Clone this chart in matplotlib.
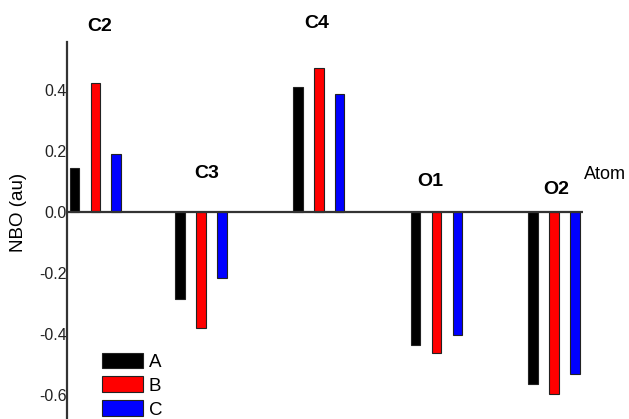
import numpy as np
import matplotlib.pyplot as plt
from matplotlib.patches import Patch

plt.rcParams['font.family'] = ['Liberation Sans', 'DejaVu Sans']

# Données NBO (au)
atoms = ['C2', 'C3', 'C4', 'O1', 'O2']
series = ['A', 'B', 'C']
nbo_a = [0.145, -0.285, 0.41, -0.438, -0.564]
nbo_b = [0.424, -0.38, 0.473, -0.463, -0.598]
nbo_c = [0.19, -0.216, 0.387, -0.403, -0.532]
yticks = [-0.6, -0.4, -0.2, 0.0, 0.2, 0.4]

group_x = np.array([1.1, 2.0, 3.0, 4.0, 5.0])
label_x = [1.14, 2.046, 2.981, 3.946, 5.017]
label_y = [0.607, 0.125, 0.616, 0.098, 0.072]
colors = ['#000000', '#ff0000', '#0000ff']
offset = 0.178
width = 0.08

fig = plt.figure(figsize=(6.29, 4.19), dpi=100)
ax = fig.add_axes([0.1065, 0.0, 0.8205, 0.8998])

for i, vals in enumerate([nbo_a, nbo_b, nbo_c]):
    ax.bar(group_x + (i - 1) * offset, vals, width=width, color=colors[i],
           edgecolor='#222222', linewidth=0.8, zorder=2)

ax.set_xlim(0.86, 5.246)
ax.set_ylim(-0.679, 0.557)
ax.axhline(0, color='#333333', linewidth=1.6, zorder=3)

for spine in ['top', 'right', 'bottom']:
    ax.spines[spine].set_visible(False)
ax.spines['left'].set_color('#333333')
ax.spines['left'].set_linewidth(1.6)

ax.set_xticks([])
ax.set_yticks(yticks)
ax.set_yticklabels([f'{t:.1f}' for t in yticks])
ax.tick_params(axis='y', length=0, pad=0, labelsize=11.5, labelcolor='#222222')

# noms des atomes
for x, y, name in zip(label_x, label_y, atoms):
    ax.text(x, y, name, ha='center', va='center', fontsize=14,
            fontweight='bold', clip_on=False)

ax.text(5.254, 0.121, 'Atom', ha='left', va='center', fontsize=13,
        clip_on=False)

fig.text(0.029, 0.494, 'NBO (au)', rotation=90, ha='center', va='center',
         fontsize=13.5)

handles = [Patch(facecolor=c, edgecolor='#222222', linewidth=0.8) for c in colors]
ax.legend(handles, series, loc='lower left', bbox_to_anchor=(0.162, 0.001),
          bbox_transform=fig.transFigure, frameon=False, fontsize=13.5,
          handlelength=2.2, handleheight=0.9, labelspacing=0.3,
          handletextpad=0.3, borderaxespad=0, borderpad=0)

plt.savefig('out.png', dpi=100)
